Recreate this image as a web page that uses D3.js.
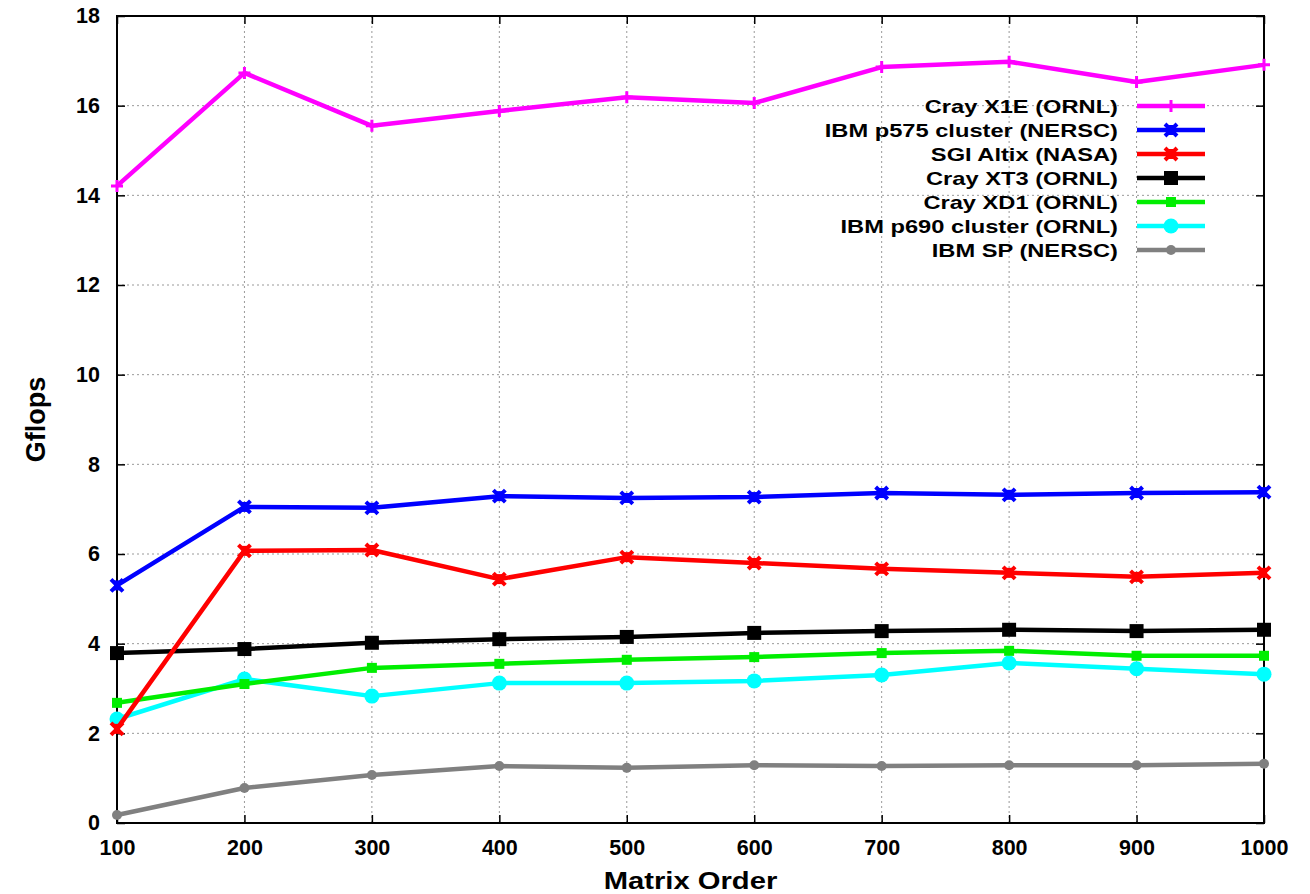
<!DOCTYPE html>
<html>
<head>
<meta charset="utf-8">
<script src="https://cdn.jsdelivr.net/npm/d3@7"></script>
<style>
  body { margin: 0; background: #fff; }
  svg { display: block; font-family: "Liberation Sans", Arial, sans-serif; font-weight: bold; }
</style>
</head>
<body>
<svg id="chart" width="1310" height="894"></svg>
<script>
const width = 1310;
const height = 894;
const margin = { top: 16, right: 46, bottom: 71, left: 117 };

const matrixOrder = [100, 200, 300, 400, 500, 600, 700, 800, 900, 1000];
const yTicks = [0, 2, 4, 6, 8, 10, 12, 14, 16, 18];

const crayX1E = [14.21, 16.73, 15.55, 15.88, 16.19, 16.06, 16.86, 16.98, 16.53, 16.91];
const ibmP575 = [5.30, 7.05, 7.03, 7.29, 7.25, 7.27, 7.36, 7.32, 7.36, 7.38];
const sgiAltix = [2.10, 6.07, 6.09, 5.44, 5.93, 5.80, 5.67, 5.58, 5.49, 5.58];
const crayXT3 = [3.79, 3.88, 4.02, 4.10, 4.15, 4.24, 4.28, 4.31, 4.28, 4.31];
const crayXD1 = [2.68, 3.10, 3.46, 3.55, 3.64, 3.70, 3.79, 3.84, 3.73, 3.73];
const ibmP690 = [2.32, 3.21, 2.83, 3.12, 3.12, 3.17, 3.30, 3.57, 3.44, 3.32];
const ibmSP = [0.18, 0.78, 1.07, 1.27, 1.23, 1.29, 1.27, 1.29, 1.29, 1.32];

const series = [
  { name: "Cray X1E (ORNL)", values: crayX1E, color: "#ff00ff", marker: "plus" },
  { name: "IBM p575 cluster (NERSC)", values: ibmP575, color: "#0000ff", marker: "cross" },
  { name: "SGI Altix (NASA)", values: sgiAltix, color: "#ff0000", marker: "cross" },
  { name: "Cray XT3 (ORNL)", values: crayXT3, color: "#000000", marker: "bigsquare" },
  { name: "Cray XD1 (ORNL)", values: crayXD1, color: "#00ee00", marker: "square" },
  { name: "IBM p690 cluster (ORNL)", values: ibmP690, color: "#00ffff", marker: "bigcircle" },
  { name: "IBM SP (NERSC)", values: ibmSP, color: "#808080", marker: "circle" }
];

const svg = d3.select("#chart");

const x = d3.scaleLinear()
  .domain([100, 1000])
  .range([margin.left, width - margin.right]);

const y = d3.scaleLinear()
  .domain([0, 18])
  .range([height - margin.bottom, margin.top]);

// grid
const grid = svg.append("g")
  .attr("stroke", "#999")
  .attr("stroke-width", 1)
  .attr("stroke-dasharray", "2,3");

grid.selectAll("line.gx")
  .data(matrixOrder.slice(1, -1))
  .join("line")
  .attr("x1", d => x(d)).attr("x2", d => x(d))
  .attr("y1", y(0)).attr("y2", y(18));

grid.selectAll("line.gy")
  .data(yTicks.slice(1, -1))
  .join("line")
  .attr("x1", x(100)).attr("x2", x(1000))
  .attr("y1", d => y(d)).attr("y2", d => y(d));

// axes
const xAxis = d3.axisBottom(x).tickValues(matrixOrder).tickSize(-8).tickPadding(17).tickFormat(d3.format("d"));
const yAxis = d3.axisLeft(y).tickValues(yTicks).tickSize(-8).tickPadding(17);

svg.append("g")
  .attr("transform", `translate(0,${y(0)})`)
  .call(xAxis)
  .call(g => g.select(".domain").remove())
  .call(g => g.selectAll("line").attr("stroke", "#000").attr("stroke-width", 1.5))
  .call(g => g.selectAll("text").attr("font-size", 21.5).attr("font-weight", "bold").attr("fill", "#000")
    .attr("font-family", "Liberation Sans, Arial, sans-serif"));

svg.append("g")
  .attr("transform", `translate(${x(100)},0)`)
  .call(yAxis)
  .call(g => g.select(".domain").remove())
  .call(g => g.selectAll("line").attr("stroke", "#000").attr("stroke-width", 1.5))
  .call(g => g.selectAll("text").attr("font-size", 21.5).attr("font-weight", "bold").attr("fill", "#000")
    .attr("font-family", "Liberation Sans, Arial, sans-serif"));

// mirror ticks
svg.append("g")
  .attr("transform", `translate(0,${y(18)})`)
  .call(d3.axisTop(x).tickValues(matrixOrder).tickSize(-8).tickFormat(""))
  .call(g => g.select(".domain").remove())
  .call(g => g.selectAll("line").attr("stroke", "#000").attr("stroke-width", 1.5));

svg.append("g")
  .attr("transform", `translate(${x(1000)},0)`)
  .call(d3.axisRight(y).tickValues(yTicks).tickSize(-8).tickFormat(""))
  .call(g => g.select(".domain").remove())
  .call(g => g.selectAll("line").attr("stroke", "#000").attr("stroke-width", 1.5));

// frame
svg.append("rect")
  .attr("x", x(100)).attr("y", y(18))
  .attr("width", x(1000) - x(100)).attr("height", y(0) - y(18))
  .attr("fill", "none").attr("stroke", "#000").attr("stroke-width", 2);

// axis titles (source text is drawn slightly wide)
svg.append("text")
  .attr("transform", `translate(${(x(100) + x(1000)) / 2},889) scale(1.27,1)`)
  .attr("text-anchor", "middle")
  .attr("font-size", 23)
  .text("Matrix Order");

svg.append("text")
  .attr("transform", `translate(45,${(y(0) + y(18)) / 2}) rotate(-90)`)
  .attr("text-anchor", "middle")
  .attr("font-size", 27)
  .text("Gflops");

function drawMarker(g, type, color) {
  if (type === "plus") {
    g.append("path").attr("d", "M-6,0H6M0,-6V6").attr("stroke", color).attr("stroke-width", 3);
  } else if (type === "cross") {
    g.append("path").attr("d", "M-6,-6L6,6M-6,6L6,-6").attr("stroke", color).attr("stroke-width", 4);
    g.append("rect").attr("x", -3).attr("y", -5).attr("width", 6).attr("height", 10).attr("fill", color);
  } else if (type === "bigsquare") {
    g.append("rect").attr("x", -7).attr("y", -7).attr("width", 14).attr("height", 14).attr("fill", color);
  } else if (type === "square") {
    g.append("rect").attr("x", -5).attr("y", -5).attr("width", 10).attr("height", 10).attr("fill", color);
  } else if (type === "bigcircle") {
    g.append("circle").attr("r", 7.5).attr("fill", color);
  } else if (type === "circle") {
    g.append("circle").attr("r", 5).attr("fill", color);
  }
}

const line = d3.line()
  .x((d, i) => x(matrixOrder[i]))
  .y(d => y(d));

// draw bottom series first so top legend entries stay above
const plot = svg.append("g");
[...series].reverse().forEach(s => {
  const g = plot.append("g");
  g.append("path")
    .datum(s.values)
    .attr("d", line)
    .attr("fill", "none")
    .attr("stroke", s.color)
    .attr("stroke-width", 4.5)
    .attr("stroke-linejoin", "round");
  g.selectAll("g.pt")
    .data(s.values)
    .join("g")
    .attr("transform", (d, i) => `translate(${x(matrixOrder[i])},${y(d)})`)
    .each(function () { drawMarker(d3.select(this), s.marker, s.color); });
});

// legend
const legend = svg.append("g");
series.forEach((s, i) => {
  const ly = 106 + i * 24;
  legend.append("text")
    .attr("transform", `translate(1118,${ly}) scale(1.28,1)`)
    .attr("dy", "0.36em")
    .attr("text-anchor", "end")
    .attr("font-size", 18.5)
    .text(s.name);
  legend.append("line")
    .attr("x1", 1137).attr("x2", 1205)
    .attr("y1", ly).attr("y2", ly)
    .attr("stroke", s.color).attr("stroke-width", 4.5);
  const m = legend.append("g").attr("transform", `translate(1171,${ly})`);
  drawMarker(m, s.marker, s.color);
});
</script>
</body>
</html>
